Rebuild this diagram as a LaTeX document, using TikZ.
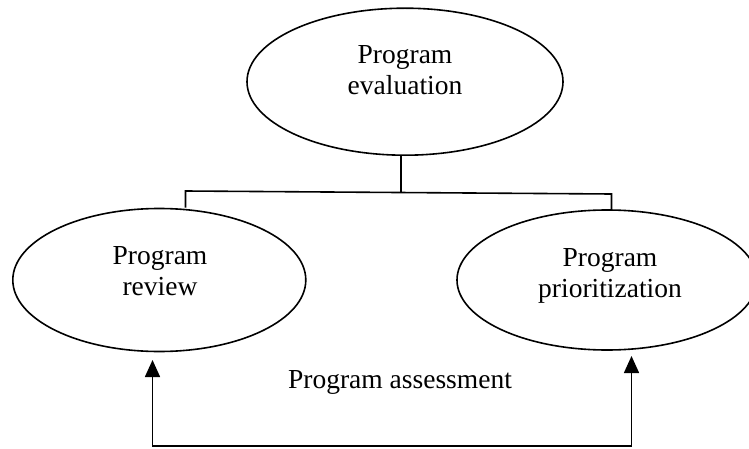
\documentclass[tikz,border=0pt]{standalone}
\usepackage{fontspec}
\setmainfont{Liberation Serif}
\usetikzlibrary{arrows.meta,shapes.geometric}
\begin{document}
\begin{tikzpicture}[x=1pt,y=1pt,
  oval/.style={draw=black, line width=1.6pt, ellipse, inner sep=0pt},
  lbl/.style={align=center, inner sep=0pt, anchor=base, font=\fontsize{27.5}{31}\selectfont},
  wire/.style={draw=black, line width=1.6pt},
  arr/.style={wire, {Triangle[length=17pt,width=15pt]}-{Triangle[length=17pt,width=15pt]}}]
\useasboundingbox (0,0) rectangle (749,448);
\fill[white] (0,0) rectangle (749,448);
% ellipses
\node[oval, minimum width=316pt, minimum height=147pt] (top) at (405,366.3) {};
\node[oval, minimum width=293pt, minimum height=143pt] (left) at (159.3,168) {};
\node[oval, minimum width=300pt, minimum height=140pt] (right) at (607,168) {};
% labels (base = baseline of the last line)
\node[lbl] (toptxt) at (405,353.7) {Program\\evaluation};
\node[lbl] (lefttxt) at (160,153) {Program\\review};
\node[lbl] (righttxt) at (610,150.7) {Program\\prioritization};
\node[lbl] (assess) at (400,60) {Program assessment};
% tree connector
\coordinate (hm) at (400.7,256);
\coordinate (hl) at (185.5,257);
\coordinate (hr) at (611.5,254);
\draw[wire] ([xshift=-4.3pt]top.south) -- (hm);
\draw[wire] (hl |- left.north) -- (hl) -- (hr) -- (hr |- right.north);
% assessment loop
\coordinate (tl) at (152.5,88);
\coordinate (tr) at (631.5,92);
\coordinate (bl) at (152.5,2);
\coordinate (br) at (631.5,2);
\draw[arr] (tl) -- (bl) -- (br) -- (tr);
\end{tikzpicture}
\end{document}
